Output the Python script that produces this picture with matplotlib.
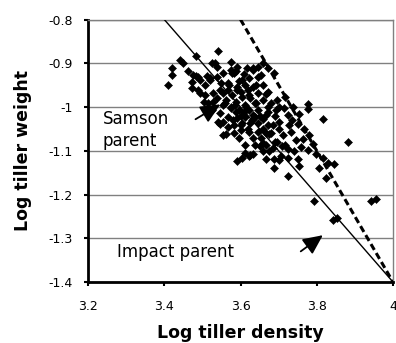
import matplotlib
matplotlib.use("Agg")
import matplotlib.pyplot as plt

# ---- data ----
density = [
    3.411, 3.421, 3.421, 3.442, 3.450, 3.461, 3.482, 3.482, 3.495, 3.474,
    3.489, 3.513, 3.521, 3.542, 3.534, 3.574, 3.587, 3.632, 3.634, 3.653,
    3.687, 3.579,
    3.526, 3.539, 3.574, 3.592, 3.618, 3.645, 3.658, 3.671, 3.476, 3.489,
    3.474, 3.508, 3.539, 3.555, 3.582, 3.605, 3.621, 3.645, 3.632, 3.658,
    3.671, 3.645, 3.613, 3.592, 3.566, 3.547, 3.529, 3.508, 3.495, 3.555,
    3.579, 3.605, 3.626, 3.658, 3.639, 3.613, 3.587, 3.561, 3.539, 3.553,
    3.574, 3.595, 3.621, 3.647, 3.671, 3.666, 3.639, 3.613, 3.592, 3.566,
    3.547, 3.555, 3.542, 3.566, 3.582, 3.605, 3.626, 3.647, 3.671, 3.600,
    3.621, 3.645, 3.666, 3.582, 3.632, 3.653, 3.595, 3.526, 3.516, 3.503,
    3.529, 3.521,
    3.666, 3.697, 3.718, 3.776, 3.776, 3.816, 3.882, 3.737, 3.753, 3.724,
    3.700, 3.726, 3.750, 3.766, 3.779, 3.763, 3.789, 3.674, 3.684, 3.711,
    3.658, 3.671, 3.692, 3.713, 3.679, 3.732, 3.745, 3.718, 3.697, 3.684,
    3.666, 3.758, 3.776,
    3.658, 3.666, 3.687, 3.705, 3.724, 3.724, 3.750, 3.753, 3.687, 3.724,
    3.797, 3.816, 3.829, 3.845, 3.805, 3.824, 3.792, 3.942, 3.955, 3.842,
    3.853,
    3.592, 3.605, 3.621, 3.634, 3.613, 3.555, 3.626, 3.639, 3.613, 3.658,
    3.547, 3.561, 3.568, 3.600, 3.621, 3.587, 3.632, 3.608,
    3.560, 3.585, 3.600, 3.630, 3.650, 3.620, 3.640, 3.660, 3.680, 3.700,
    3.690, 3.710, 3.740, 3.735, 3.690, 3.700, 3.620, 3.600, 3.580, 3.570,
    3.550, 3.595, 3.610, 3.640, 3.650, 3.675, 3.700, 3.575, 3.590, 3.615,
]
weight = [
    -0.950, -0.911, -0.927, -0.893, -0.900, -0.918, -0.884, -0.929, -0.938, -0.957,
    -0.961, -0.929, -0.938, -0.872, -0.900, -0.916, -0.918, -0.916, -0.911, -0.927,
    -0.922, -0.922,
    -0.900, -0.909, -0.897, -0.909, -0.911, -0.909, -0.900, -0.911, -0.927, -0.932,
    -0.943, -0.950, -0.932, -0.922, -0.922, -0.938, -0.934, -0.932, -0.954, -0.950,
    -0.966, -0.968, -0.950, -0.954, -0.945, -0.961, -0.968, -0.973, -0.968, -0.968,
    -0.973, -0.977, -0.980, -0.984, -0.991, -0.996, -0.989, -0.984, -0.980, -0.996,
    -1.003, -1.007, -1.007, -1.007, -1.000, -1.019, -1.023, -1.023, -1.025, -1.023,
    -1.014, -1.035, -1.035, -1.046, -1.041, -1.037, -1.037, -1.037, -1.041, -1.053,
    -1.057, -1.057, -1.060, -1.060, -1.071, -1.071, -1.071, -1.007, -0.991, -0.989,
    -0.989, -0.934,
    -0.970, -0.984, -0.977, -0.993, -1.005, -1.028, -1.080, -1.000, -1.016, -1.019,
    -1.035, -1.041, -1.039, -1.051, -1.064, -1.073, -1.085, -1.062, -1.041, -1.064,
    -1.028, -1.012, -1.007, -1.003, -0.991, -1.057, -1.076, -1.087, -1.080, -1.094,
    -1.087, -1.092, -1.099,
    -1.101, -1.119, -1.119, -1.112, -1.117, -1.096, -1.119, -1.135, -1.140, -1.158,
    -1.108, -1.117, -1.128, -1.131, -1.140, -1.163, -1.215, -1.215, -1.211, -1.259,
    -1.254,
    -1.124, -1.117, -1.112, -1.108, -1.105, -1.064, -1.110, -1.087, -1.087, -1.083,
    -1.039, -1.062, -0.961, -0.966, -0.973, -1.012, -1.019, -1.012,
    -0.990, -0.995, -1.020, -1.030, -1.020, -0.960, -0.990, -1.050, -1.060, -1.050,
    -1.080, -1.090, -1.100, -1.030, -1.020, -1.000, -1.050, -1.040, -1.030, -0.950,
    -0.945, -0.940, -0.925, -0.950, -1.090, -1.100, -1.120, -1.000, -0.960, -1.000,
]

# reference lines (end points)
samson_x = [3.4, 4.0]
samson_y = [-0.8, -1.4]
impact_x = [3.6, 4.0]
impact_y = [-0.8, -1.4]

# annotation arrows: (tail, head)
samson_arrow = [(3.482, -1.028), (3.547, -0.994)]
impact_arrow = [(3.758, -1.330), (3.816, -1.293)]

x_ticks = [3.2, 3.4, 3.6, 3.8, 4.0]
x_tick_labels = ["3.2", "3.4", "3.6", "3.8", "4"]
y_ticks = [-1.4, -1.3, -1.2, -1.1, -1.0, -0.9, -0.8]
y_tick_labels = ["-1.4", "-1.3", "-1.2", "-1.1", "-1", "-0.9", "-0.8"]

plt.rcParams['font.family'] = ['DejaVu Sans']

fig = plt.figure(figsize=(3.96, 3.43), dpi=100)
ax = fig.add_axes([88/396, 1-282/343, (393-88)/396, (282-19.5)/343])

ax.set_xlim(3.2, 4.0)
ax.set_ylim(-1.4, -0.8)

for yt in y_ticks:
    ax.axhline(yt, color='#808080', lw=1.0, zorder=0)

ax.plot(density, weight, linestyle='none', marker='D', ms=4.4,
        mfc='black', mec='black', mew=0.4, zorder=3, clip_on=False)

ax.plot(samson_x, samson_y, color='black', lw=1.0, zorder=4)
ax.plot(impact_x, impact_y, color='black', lw=2.2, dashes=(2.2, 1.2), zorder=4)

for (tail, head) in (samson_arrow, impact_arrow):
    ax.annotate('', xy=head, xytext=tail,
                arrowprops=dict(arrowstyle='-|>,head_length=0.6,head_width=0.28',
                                mutation_scale=20, lw=1.3, color='black',
                                shrinkA=0, shrinkB=0), zorder=5)

ax.text(3.239, -1.053, "Samson\nparent", fontsize=12, ha='left', va='center',
        linespacing=1.25)
ax.text(3.276, -1.332, "Impact parent", fontsize=12, ha='left', va='center')

ax.set_xticks(x_ticks)
ax.set_xticklabels(x_tick_labels)
ax.set_yticks(y_ticks)
ax.set_yticklabels(y_tick_labels)
ax.tick_params(axis='both', direction='out', length=3, width=1.5, labelsize=9,
               color='black')
ax.tick_params(axis='x', pad=10)
ax.tick_params(axis='y', pad=8)

for side in ('left', 'bottom'):
    ax.spines[side].set_linewidth(2.0)
    ax.spines[side].set_color('black')
for side in ('top', 'right'):
    ax.spines[side].set_linewidth(1.0)
    ax.spines[side].set_color('#808080')

ax.set_xlabel("Log tiller density", fontsize=12.5, fontweight='bold', labelpad=8)
ax.set_ylabel("Log tiller weight", fontsize=12.5, fontweight='bold', labelpad=12)

fig.savefig("out.png", dpi=100)
